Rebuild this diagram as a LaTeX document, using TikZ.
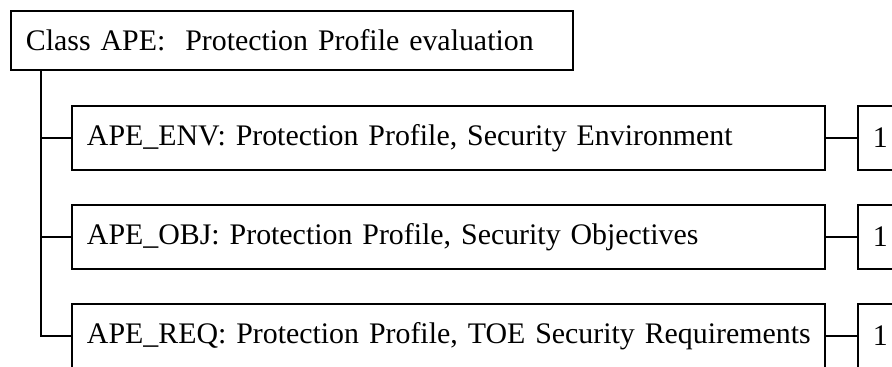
\documentclass[tikz,border=0pt]{standalone}
\usepackage{fontspec}
\setmainfont{Liberation Serif}
\usetikzlibrary{positioning}

\begin{document}
\begin{tikzpicture}[x=0.02cm,y=-0.02cm,line width=1.1pt,node distance=0.7cm,
  box/.style={draw,rectangle,outer sep=0pt,inner xsep=0.3cm,inner ysep=0pt,align=left,font=\fontsize{17}{20}\selectfont},
  class box/.style={box,text width=10.64cm,minimum height=1.18cm},
  sub box/.style={box,text width=14.46cm,minimum height=1.28cm},
  ref box/.style={box,text width=1.2cm,minimum height=1.28cm}]

  \clip (0,0) rectangle (892,367);

  \node[class box,anchor=north west] (cls) at (11,11) {Class APE:\ \ Protection Profile evaluation};

  \node[sub box] (env) [below right=0.72cm and 1.22cm of cls.south west] {\mbox{APE\_ENV: Protection Profile, Security Environment}};
  \node[sub box] (obj) [below=of env] {\mbox{APE\_OBJ: Protection Profile, Security Objectives}};
  \node[sub box] (req) [below=of obj] {\mbox{APE\_REQ: Protection Profile, TOE Security Requirements}};

  \node[ref box] (envref) [right=0.66cm of env] {1};
  \node[ref box] (objref) [right=0.66cm of obj] {1};
  \node[ref box] (reqref) [right=0.66cm of req] {1};

  \coordinate (trunk) at ([xshift=0.6cm]cls.south west);

  \draw (trunk) |- (req.west);
  \draw (trunk |- env.west) -- (env.west);
  \draw (trunk |- obj.west) -- (obj.west);

  \draw (env) -- (envref);
  \draw (obj) -- (objref);
  \draw (req) -- (reqref);
\end{tikzpicture}
\end{document}
